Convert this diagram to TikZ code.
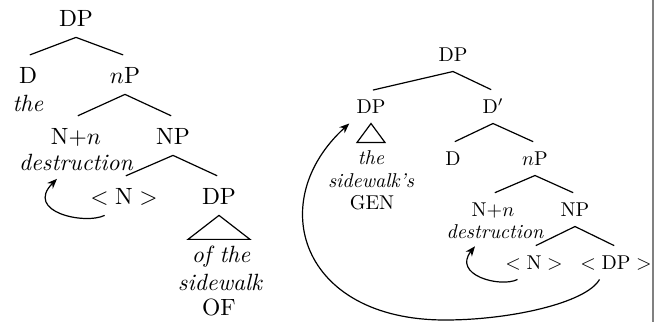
\documentclass[tikz,border=0pt]{standalone}
\usetikzlibrary{arrows.meta}
\begin{document}
\begin{tikzpicture}[x=0.5pt,y=-0.5pt,line width=0.6pt,
  cat/.style={text height=1.6ex,text depth=0pt,inner xsep=.3333em,inner ysep=.45em},
  wrd/.style={font=\itshape},
  gloss/.style={inner ysep=0pt},
  branch/.style={shorten >=1pt},
  move/.style={-{Stealth[length=5pt,width=4pt]}}]
\useasboundingbox (0,0) rectangle (660,322);

\begin{scope}[every node/.append style={scale=1.175}]
\node[cat] (lDP) at (76,18) {DP};
\node[cat] (lD) at (28,75) {D};
\node[cat] (lnP) at (125,75) {$n$P};
\node[wrd] (lthe) at (28,103) {the};
\node[cat] (lNn) at (76,136) {N+$n$};
\node[cat] (lNP) at (173,136) {NP};
\node[wrd] (ldest) at (76,162) {destruction};
\node[cat] (lN) at (124,196) {$<\mathrm{N}>$};
\node[cat] (ltDP) at (219,196) {DP};
\node[wrd,gloss] (lofthe) at (221,257) {of the};
\node[wrd,gloss] (lside) at (220,282) {sidewalk};
\node[gloss] (lOF) at (219,307) {OF};
\end{scope}

\draw[branch] (lDP.south) -- (lD.north);
\draw[branch] (lDP.south) -- (lnP.north);
\draw[branch] (lnP.south) -- (lNn.north);
\draw[branch] (lnP.south) -- (lNP.north);
\draw[branch] (lNP.south) -- (lN.north);
\draw[branch] (lNP.south) -- (ltDP.north);
\draw (ltDP.south) -- ++(-31,24) -- ++(62,0) -- cycle;
\draw[move] (lN.-135) .. controls (85,225) and (24,212) .. ([xshift=-9.5pt]ldest.south);

\node[cat] (rDP) at (453,55) {DP};
\node[cat] (rspec) at (371,107) {DP};
\node[cat] (rdbar) at (493,107) {D$'$};
\node[wrd,gloss] (rthe) at (371,158) {the};
\node[wrd,gloss] (rside) at (371,181) {sidewalk's};
\node[gloss] (rgen) at (372,203) {GEN};
\node[cat] (rD) at (453,159) {D};
\node[cat] (rnP) at (535,159) {$n$P};
\node[cat] (rNn) at (493,210) {N+$n$};
\node[cat] (rNP) at (575,210) {NP};
\node[wrd] (rdest) at (495,232) {destruction};
\node[cat] (rN) at (534,263) {$<\mathrm{N}>$};
\node[cat] (rtDP) at (616,263) {$<\mathrm{DP}>$};

\draw[branch] (rDP.south) -- (rspec.north);
\draw[branch] (rDP.south) -- (rdbar.north);
\draw[branch] (rdbar.south) -- (rD.north);
\draw[branch] (rdbar.south) -- (rnP.north);
\draw[branch] (rnP.south) -- (rNn.north);
\draw[branch] (rnP.south) -- (rNP.north);
\draw[branch] (rNP.south) -- (rN.north);
\draw[branch] (rNP.south) -- (rtDP.north);
\draw (rspec.south) -- ++(-14,19) -- ++(28,0) -- cycle;
\draw[move] (rN.-135) .. controls (500,288) and (452,275) .. ([xshift=-10pt]rdest.south);
\coordinate (mvbot) at (445,320);
\draw[move] (rtDP.-135) .. controls (586,303) and (510,320) .. (mvbot)
  .. controls (300,320) and (264,201) .. (rspec.south west);

\draw[gray,line width=1.1pt] (653,0) -- (653,322);
\end{tikzpicture}
\end{document}
